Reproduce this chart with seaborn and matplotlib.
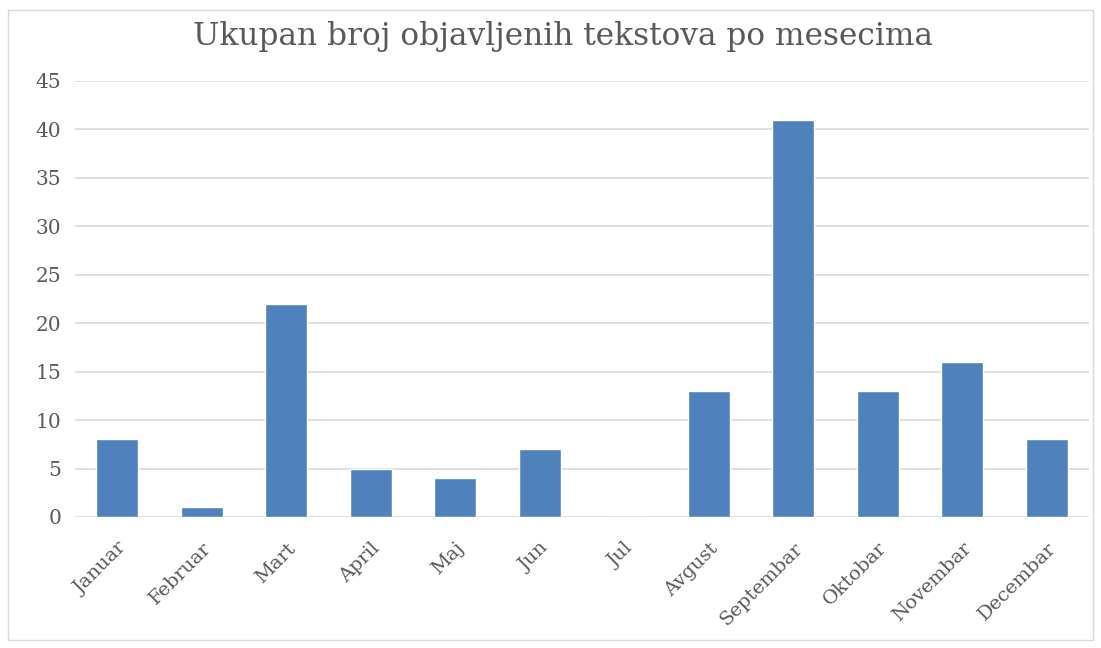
import matplotlib
matplotlib.use("Agg")
import matplotlib.pyplot as plt
import seaborn as sns
import pandas as pd
from matplotlib.patches import Rectangle

months = ["Januar", "Februar", "Mart", "April", "Maj", "Jun", "Jul",
          "Avgust", "Septembar", "Oktobar", "Novembar", "Decembar"]
counts = [8, 1, 22, 5, 4, 7, 0, 13, 41, 13, 16, 8]
yticks = [0, 5, 10, 15, 20, 25, 30, 35, 40, 45]
title = "Ukupan broj objavljenih tekstova po mesecima"

sns.set_theme(style="white")
plt.rcParams['font.family'] = ['DejaVu Serif']

df = pd.DataFrame({"Mesec": months, "Broj": counts})

fig = plt.figure(figsize=(11.01, 6.48), dpi=100)
ax = fig.add_axes([75/1101, 1-517/648, (1089-75)/1101, (517-81)/648])

sns.barplot(data=df, x="Mesec", y="Broj", color="#4F81BD", saturation=1,
            width=0.5, ax=ax, zorder=3)

ax.set_ylim(0, 45)
ax.set_xlim(-0.5, 11.5)
ax.set_yticks(yticks)
ax.yaxis.grid(True, color="#D9D9D9", linewidth=1.2, zorder=0)
ax.set_axisbelow(True)
for s in ax.spines.values():
    s.set_visible(False)
ax.set_xlabel("")
ax.set_ylabel("")
ax.tick_params(axis="y", length=0, colors="#595959", labelsize=14.5, pad=10)
ax.tick_params(axis="x", length=0, colors="#595959", labelsize=14, pad=16)
plt.setp(ax.get_xticklabels(), rotation=45, ha="right", rotation_mode="anchor")

fig.text(563/1101, 1-36/648, title, ha="center", va="center",
         fontsize=22.5, color="#595959")

fig.patches.append(Rectangle((8/1101, 8/648), 1-16/1101, 1-18/648,
                             transform=fig.transFigure, fill=False,
                             edgecolor="#D9D9D9", linewidth=1))

fig.savefig("out.png", dpi=100, facecolor="white")
